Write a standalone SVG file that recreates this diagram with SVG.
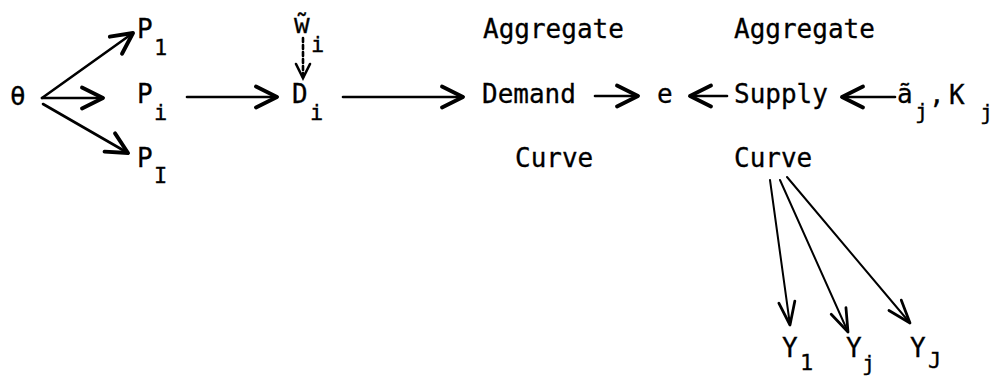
<svg xmlns="http://www.w3.org/2000/svg" width="1002" height="381" viewBox="0 0 1002 381">
<style>
text{font-family:"DejaVu Sans Mono","Liberation Mono",monospace;font-size:26px;fill:#000;stroke:#000;stroke-width:0.3px}
.sub{font-size:22px}
.c{fill:none;stroke:#000;stroke-width:2.6;stroke-linecap:round}
.t{stroke-width:2}
</style>
<defs>
<marker id="h" markerUnits="userSpaceOnUse" orient="auto" refX="0" refY="0" markerWidth="30" markerHeight="30" viewBox="-16 -10 20 20" overflow="visible">
<path d="M-14,-7 L0,0 L-14,7" fill="none" stroke="#000" stroke-width="2.6" stroke-linecap="round" stroke-linejoin="round"/>
</marker>
<marker id="hs" markerUnits="userSpaceOnUse" orient="auto" refX="0" refY="0" markerWidth="30" markerHeight="30" viewBox="-22 -10 26 20" overflow="visible">
<path d="M-20,-7 L0,0 L-20,7" fill="none" stroke="#000" stroke-width="2.4" stroke-linecap="round" stroke-linejoin="round"/>
</marker>
</defs>
<g id="connectors">
<path class="c" d="M42,98 L133,33" marker-end="url(#h)"/>
<path class="c" d="M42,98 L103,98" marker-end="url(#h)"/>
<path class="c" d="M43,104 L128,153" marker-end="url(#h)"/>
<path class="c" d="M187,97 L277,97" marker-end="url(#h)"/>
<path class="c" d="M303,38 L303,78" stroke-width="2" stroke-dasharray="4 3"/>
<path class="c" d="M296,64 L303,78 L310,64" stroke-width="2"/>
<path class="c" d="M343,97 L463,97" marker-end="url(#h)"/>
<path class="c" d="M595,96 L638,96" marker-end="url(#h)"/>
<path class="c" d="M727,96 L690,96" marker-end="url(#h)"/>
<path class="c" d="M895,97 L842,97" marker-end="url(#h)"/>
<path class="c t" d="M770,180 L790,325" marker-end="url(#hs)"/>
<path class="c t" d="M780,180 L848,332" marker-end="url(#hs)"/>
<path class="c t" d="M787,177 L910,323" marker-end="url(#hs)"/>
</g>
<g id="theta"><text x="10" y="105">θ</text></g>
<g id="P1"><text x="137" y="38">P</text><text class="sub" x="154" y="55">1</text></g>
<g id="Pi"><text x="137" y="103">P</text><text class="sub" x="154" y="120">i</text></g>
<g id="PI"><text x="137" y="167">P</text><text class="sub" x="154" y="183">I</text></g>
<g id="wi"><text x="294" y="33">w̃</text><text class="sub" x="311" y="52">i</text></g>
<g id="Di"><text x="292" y="103">D</text><text class="sub" x="310" y="120">i</text></g>
<g id="demand"><text x="483" y="38">Aggregate</text><text x="482" y="103">Demand</text><text x="515" y="167">Curve</text></g>
<g id="e"><text x="657" y="103">e</text></g>
<g id="supply"><text x="734" y="38">Aggregate</text><text x="734" y="103">Supply</text><text x="734" y="167">Curve</text></g>
<g id="aK"><text x="897" y="103">ã</text><text class="sub" x="915" y="119">j</text><text x="929" y="103">,</text><text x="949" y="104">K</text><text class="sub" x="980" y="120">j</text></g>
<g id="Y1"><text x="782" y="357">Y</text><text class="sub" x="800" y="370">1</text></g>
<g id="Yj"><text x="846" y="357">Y</text><text class="sub" x="862" y="371">j</text></g>
<g id="YJ"><text x="910" y="357">Y</text><text class="sub" x="928" y="368">J</text></g>
</svg>
